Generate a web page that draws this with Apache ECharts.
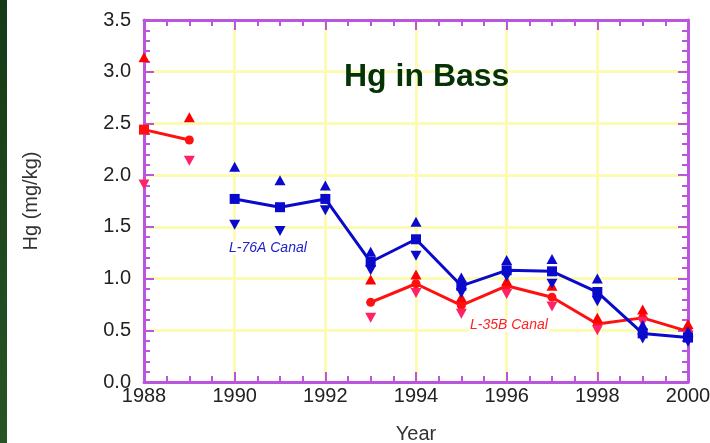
<!DOCTYPE html>
<html>
<head>
<meta charset="utf-8">
<script src="https://cdn.jsdelivr.net/npm/echarts@6/dist/echarts.min.js"></script>
<style>
html,body{margin:0;padding:0;background:#fff;}
#chart{width:710px;height:443px;}
</style>
</head>
<body>
<div id="chart"></div>
<script>
var years = [1988, 1989, 1990, 1991, 1992, 1993, 1994, 1995, 1996, 1997, 1998, 1999, 2000];
var redMean  = [2.44, 2.34, null, null, null, 0.77, 0.95, 0.74, 0.93, 0.82, 0.56, 0.62, 0.49];
var redMax   = [3.14, 2.56, null, null, null, 0.99, 1.04, 0.82, 0.98, 0.93, 0.62, 0.70, 0.56];
var redMin   = [1.91, 2.14, null, null, null, 0.62, 0.86, 0.66, 0.85, 0.73, 0.50, 0.58, 0.45];
var blueMean = [null, null, 1.77, 1.69, 1.77, 1.16, 1.38, 0.93, 1.08, 1.07, 0.87, 0.47, 0.43];
var blueMax  = [null, null, 2.08, 1.95, 1.90, 1.26, 1.55, 1.01, 1.18, 1.19, 1.00, 0.55, 0.49];
var blueMin  = [null, null, 1.52, 1.46, 1.66, 1.08, 1.22, 0.86, 1.02, 0.95, 0.78, 0.42, 0.39];
var titleText = 'Hg in Bass';
var yName = 'Hg (mg/kg)';
var xName = 'Year';
var redLabel = 'L-35B Canal';
var blueLabel = 'L-76A Canal';

function pairs(arr, keepGaps) {
  var out = [];
  for (var i = 0; i < years.length; i++) {
    if (arr[i] === null) { if (keepGaps) out.push([years[i], '-']); }
    else out.push([years[i], arr[i]]);
  }
  return out;
}

var PURPLE = '#bb55dd';
var GRIDC = '#fbfbb4';
var FONT = 'Liberation Sans, Arial, sans-serif';

function axisBase(extra) {
  var base = {
    axisLine: {show: true, onZero: false, lineStyle: {color: PURPLE, width: 3}},
    axisTick: {show: true, inside: true, length: 10, lineStyle: {color: PURPLE, width: 2}},
    minorTick: {show: true, length: 6, lineStyle: {color: PURPLE, width: 2}},
    splitLine: {show: false}
  };
  for (var k in extra) base[k] = extra[k];
  return base;
}

var chart = echarts.init(document.getElementById('chart'));
var redMeanData = pairs(redMean, true).map(function (p, i) {
  if (i === 0) return {value: p, symbol: 'rect', symbolSize: 10};
  return p;
});

chart.setOption({
  animation: false,
  backgroundColor: '#ffffff',
  grid: {left: 144, right: 22, top: 20, bottom: 61, containLabel: false, outerBoundsMode: 'none'},
  xAxis: [
    axisBase({
      type: 'value', position: 'bottom', min: 1988, max: 2000, interval: 2,
      minorTick: {show: true, splitNumber: 4, length: 6, lineStyle: {color: PURPLE, width: 2}},
      splitLine: {show: true, lineStyle: {color: GRIDC, width: 3}},
      axisLabel: {color: '#222', fontSize: 20, fontFamily: FONT, margin: 4,
        formatter: function (v) { return String(v); }},
      name: xName, nameLocation: 'middle', nameGap: 42,
      nameTextStyle: {color: '#333', fontSize: 20, fontFamily: FONT}
    }),
    axisBase({
      type: 'value', position: 'top', min: 1988, max: 2000, interval: 2,
      minorTick: {show: true, splitNumber: 4, length: 6, lineStyle: {color: PURPLE, width: 2}},
      axisLabel: {show: false}
    })
  ],
  yAxis: [
    axisBase({
      type: 'value', position: 'left', min: 0, max: 3.5, interval: 0.5,
      minorTick: {show: true, splitNumber: 5, length: 6, lineStyle: {color: PURPLE, width: 2}},
      splitLine: {show: true, lineStyle: {color: GRIDC, width: 3}},
      axisLabel: {color: '#222', fontSize: 20, fontFamily: FONT, margin: 13,
        formatter: function (v) { return v.toFixed(1); }},
      name: yName, nameLocation: 'middle', nameGap: 103, nameRotate: 90,
      nameTextStyle: {color: '#333', fontSize: 20, fontFamily: FONT}
    }),
    axisBase({
      type: 'value', position: 'right', min: 0, max: 3.5, interval: 0.5,
      minorTick: {show: true, splitNumber: 5, length: 6, lineStyle: {color: PURPLE, width: 2}},
      axisLabel: {show: false}
    })
  ],
  series: [
    {type: 'line', name: 'redMean', data: redMeanData, symbol: 'circle', symbolSize: 9,
     connectNulls: false, lineStyle: {color: '#ff1111', width: 3},
     itemStyle: {color: '#ff1111', opacity: 1}, z: 3},
    {type: 'scatter', name: 'redMax', data: pairs(redMax), symbol: 'triangle', symbolSize: [11, 10],
     itemStyle: {color: '#ff0000', opacity: 1}, z: 3},
    {type: 'scatter', name: 'redMin', data: pairs(redMin), symbol: 'triangle', symbolRotate: 180, symbolSize: [11, 10],
     itemStyle: {color: '#ff2266', opacity: 1}, z: 3},
    {type: 'line', name: 'blueMean', data: pairs(blueMean, true), symbol: 'rect', symbolSize: 10,
     connectNulls: false, lineStyle: {color: '#0a0acc', width: 3},
     itemStyle: {color: '#0a0acc', opacity: 1}, z: 4},
    {type: 'scatter', name: 'blueMax', data: pairs(blueMax), symbol: 'triangle', symbolSize: [11, 10],
     itemStyle: {color: '#0a0acc', opacity: 1}, z: 4},
    {type: 'scatter', name: 'blueMin', data: pairs(blueMin), symbol: 'triangle', symbolRotate: 180, symbolSize: [11, 10],
     itemStyle: {color: '#0a0acc', opacity: 1}, z: 4}
  ],
  graphic: [
    {type: 'rect', left: 0, top: 0, z: 10,
     shape: {width: 7, height: 443},
     style: {fill: new echarts.graphic.LinearGradient(0, 0, 0, 1, [
       {offset: 0, color: '#163a16'}, {offset: 1, color: '#275527'}])}},
    {type: 'text', left: 344, top: 61, z: 10,
     style: {text: titleText, fill: '#053305', font: 'bold 32px ' + FONT}},
    {type: 'text', left: 228, top: 241, z: 10,
     style: {text: blueLabel, fill: '#2222cc', font: 'italic 14px ' + FONT,
       backgroundColor: '#fff', padding: [0, 1]}},
    {type: 'text', left: 469, top: 318, z: 10,
     style: {text: redLabel, fill: '#ff2222', font: 'italic 14px ' + FONT,
       backgroundColor: '#fff', padding: [0, 1]}}
  ]
});
</script>
</body>
</html>
